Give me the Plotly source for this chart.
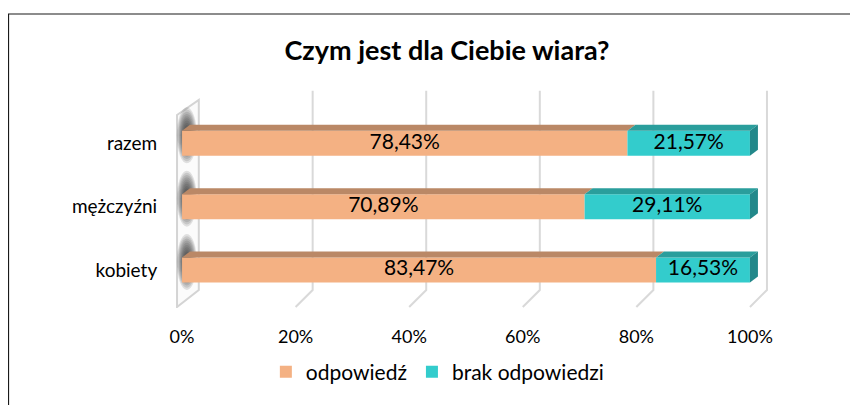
import plotly.graph_objects as go

# ---------------- data ----------------
categories = ["kobiety", "mężczyźni", "razem"]
odpowiedz = [83.47, 70.89, 78.43]
brak = [16.53, 29.11, 21.57]
series_names = ["odpowiedź", "brak odpowiedzi"]
tick_vals = [0, 20, 40, 60, 80, 100]
tick_text = ["0%", "20%", "40%", "60%", "80%", "100%"]

FONT = "Lato"
C_OR = "#F4B183"
C_OR_TOP = "#BA8866"
C_TE = "#33CCCC"
C_TE_TOP = "#2A9E9C"
C_TE_SIDE = "#22888A"

PXX = 5.679   # px per x unit
PXY = 63.33   # px per y unit

# geometry (data units)
W = 0.395          # bar thickness
DX = 1.41          # 3D depth in x
DY = 0.095         # 3D depth in y
GDX = 3.0          # back wall offset
Y_BACK_TOP = 2.83
Y_BACK_BOT = -0.316
Y_FRONT_BOT = -0.584

ypos = list(range(len(categories)))


def fmt(v):
    return f"{v:.2f}".replace(".", ",") + "%"


fig = go.Figure()

# front faces
fig.add_trace(go.Bar(y=ypos, x=odpowiedz, base=0, orientation="h", width=W,
                     marker=dict(color=C_OR, line=dict(width=0)),
                     name=series_names[0], hoverinfo="skip"))
fig.add_trace(go.Bar(y=ypos, x=brak, base=odpowiedz, orientation="h", width=W,
                     marker=dict(color=C_TE, line=dict(width=0)),
                     name=series_names[1], hoverinfo="skip"))

# 3D top / side faces
for yc, a, b in zip(ypos, odpowiedz, brak):
    top = yc + W / 2
    bot = yc - W / 2
    end = a + b
    fig.add_trace(go.Scatter(
        x=[0, DX, a + DX, a, 0], y=[top, top + DY, top + DY, top, top],
        fill="toself", fillcolor=C_OR_TOP, line=dict(width=0), mode="lines",
        showlegend=False, hoverinfo="skip"))
    fig.add_trace(go.Scatter(
        x=[a, a + DX, end + DX, end, a], y=[top, top + DY, top + DY, top, top],
        fill="toself", fillcolor=C_TE_TOP, line=dict(width=0), mode="lines",
        showlegend=False, hoverinfo="skip"))
    fig.add_trace(go.Scatter(
        x=[end, end + DX, end + DX, end, end], y=[top, top + DY, bot + DY, bot, top],
        fill="toself", fillcolor=C_TE_SIDE, line=dict(width=0), mode="lines",
        showlegend=False, hoverinfo="skip"))

# data labels
fig.add_trace(go.Scatter(
    x=[a / 2 for a in odpowiedz] + [a + b / 2 for a, b in zip(odpowiedz, brak)],
    y=ypos + ypos, mode="text",
    text=[fmt(v) for v in odpowiedz] + [fmt(v) for v in brak],
    textfont=dict(family=FONT, size=21, color="#000000"),
    showlegend=False, hoverinfo="skip"))

shapes = []
# back-wall gridlines with floor diagonals
for t in tick_vals[1:]:
    shapes.append(dict(type="path", layer="below", xref="x", yref="y",
                       path=f"M{t + GDX},{Y_BACK_TOP} L{t + GDX},{Y_BACK_BOT} L{t},{Y_FRONT_BOT}",
                       line=dict(color="#D9D9D9", width=2)))
# left wall
shapes.append(dict(type="path", layer="below", xref="x", yref="y",
                   path=f"M-0.88,{Y_FRONT_BOT} L-0.88,2.447 L{GDX - 0.05},2.684 L{GDX - 0.05},{Y_BACK_BOT} Z",
                   fillcolor="#FBFBFB", line=dict(color="#D4D4D4", width=2)))
# soft shadows of the bars on the wall (layered ellipses)
for yc in ypos:
    cy = yc + 8 / PXY
    for k in range(9):
        rx = (10 - k * 0.8) / PXX
        ry = (28 - k * 2.2) / PXY
        shapes.append(dict(type="circle", layer="below", xref="x", yref="y",
                           x0=0.85 - rx, x1=0.85 + rx, y0=cy - ry, y1=cy + ry,
                           fillcolor="rgba(40,40,40,0.13)", line=dict(width=0)))
# outer frame of the chart
shapes.append(dict(type="path", xref="paper", yref="paper",
                   path="M-0.2528,-0.5 L-0.2528,1.2895 L1.2,1.2895",
                   line=dict(color="#1a1a1a", width=1.2)))

fig.update_layout(
    width=850, height=397,
    margin=dict(l=157, r=74, t=72, b=97),
    paper_bgcolor="white", plot_bgcolor="white",
    barmode="overlay",
    showlegend=True,
    title=dict(text="<b>Czym jest dla Ciebie wiara?</b>", x=0.5165, xanchor="center",
               y=0.894, yanchor="middle",
               font=dict(family=FONT, size=27, color="#000000")),
    xaxis=dict(range=[-3, 106], tickvals=tick_vals, ticktext=tick_text,
               showgrid=False, zeroline=False, showline=False,
               ticks="outside", ticklen=12, tickcolor="rgba(0,0,0,0)",
               tickfont=dict(family=FONT, size=18, color="#000000"),
               fixedrange=True),
    yaxis=dict(range=[-0.6, 3.0], tickvals=ypos, ticktext=categories,
               showgrid=False, zeroline=False, showline=False,
               ticks="outside", ticklen=3, tickcolor="rgba(0,0,0,0)",
               tickfont=dict(family=FONT, size=19, color="#000000"),
               fixedrange=True),
    legend=dict(orientation="h", x=0.44, xanchor="center", y=-0.281, yanchor="middle",
                font=dict(family=FONT, size=21, color="#000000"),
                bgcolor="rgba(0,0,0,0)", traceorder="normal"),
    shapes=shapes,
)

fig.write_html("out.html")
